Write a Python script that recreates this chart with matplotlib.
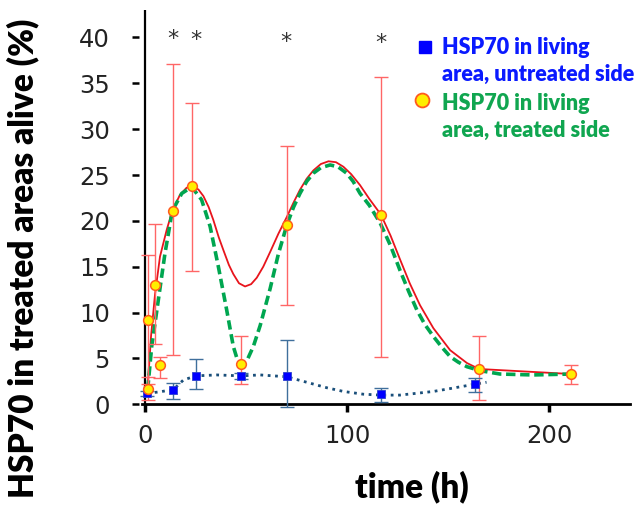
import matplotlib
matplotlib.use("Agg")
import matplotlib.pyplot as plt

# Treated side (yellow circles, red error bars)
treated_h = [1.3, 1.6, 5.0, 7.4, 13.6, 23.2, 47.5, 70.2, 116.7, 165.3, 211.0]
treated_y = [1.7, 9.2, 13.0, 4.3, 21.1, 23.8, 4.4, 19.5, 20.6, 3.85, 3.3]
treated_lo = [0.5, 2.2, 6.6, 2.9, 5.4, 14.5, 2.2, 10.8, 5.2, 0.5, 2.2]
treated_hi = [3.0, 16.3, 19.7, 5.2, 37.1, 32.9, 7.5, 28.2, 35.7, 7.4, 4.3]

# Untreated side (blue squares)
untreated_h = [1.2, 14.0, 25.2, 47.5, 70.1, 116.7, 163.5]
untreated_y = [1.2, 1.6, 3.1, 3.1, 3.05, 1.1, 2.2]
untreated_lo = [0.9, 0.55, 1.7, 2.8, -0.3, 0.3, 1.3]
untreated_hi = [1.5, 2.3, 4.95, 3.4, 7.0, 1.8, 2.9]

# Fitted curves
red_h = [1.0, 1.65, 3.0, 4.95, 7.4, 10.7, 13.5, 17.3, 20.5, 23.5, 26.5, 28.9,
         31.5, 33.8, 36.5, 38.8, 41.5, 43.7, 46.5, 49.5, 52.5, 55.3, 58.5,
         61.9, 66.0, 70.1, 73.5, 76.7, 80.0, 83.3, 87.0, 90.8, 94.5, 98.2,
         102.0, 106.4, 111.0, 116.7, 121.5, 126.2, 131.0, 136.1, 142.7,
         151.0, 159.3, 165.3, 211.0]
red_y = [1.5, 3.0, 7.5, 12.0, 16.1, 19.0, 21.1, 22.85, 23.6, 23.9, 23.4, 22.7,
         21.5, 20.1, 18.2, 16.8, 15.2, 14.2, 13.2, 12.85, 13.1, 13.8, 15.0,
         16.6, 18.6, 20.4, 22.0, 23.4, 24.6, 25.5, 26.2, 26.5, 26.4, 25.9,
         25.1, 23.9, 22.4, 20.7, 18.4, 15.8, 13.2, 10.8, 8.3,
         5.9, 4.5, 3.85, 3.3]

green_h = [1.3, 3.3, 6.6, 9.9, 13.5, 18.2, 23.1, 28.0, 32.2, 36.3, 40.4, 43.7,
           45.5, 48.0, 50.5, 53.6, 57.0, 61.9, 66.0, 70.1, 73.5, 76.7, 80.0,
           83.3, 87.0, 91.6, 95.5, 99.8, 103.0, 106.4, 111.0, 116.3, 121.5,
           126.2, 130.5, 134.5, 138.5, 142.7, 147.0, 151.0, 155.0, 159.3,
           165.8, 175.7, 192.0, 211.0]
green_y = [1.6, 6.3, 11.4, 16.5, 21.1, 23.0, 23.7, 22.3, 19.4, 15.0, 10.3, 6.3,
           5.0, 4.3, 4.8, 6.3, 8.6, 12.6, 16.4, 19.5, 21.5, 23.0, 24.3,
           25.2, 25.8, 26.1, 25.9, 25.2, 24.3, 23.0, 21.7, 19.8, 17.3,
           14.6, 12.3, 10.3, 8.7, 7.4, 6.2, 5.2, 4.6, 4.1,
           3.67, 3.3, 3.2, 3.3]

blue_h = [1.2, 7.0, 14.0, 19.0, 25.2, 35.5, 47.5, 57.0, 70.1, 81.7, 90.0, 98.2,
          108.0, 116.7, 126.0, 134.5, 142.7, 152.0, 163.5, 169.0]
blue_y = [1.2, 1.35, 1.6, 2.65, 3.1, 3.2, 3.1, 3.2, 3.0, 2.3, 1.8, 1.4,
          1.1, 1.0, 1.0, 1.2, 1.4, 1.75, 2.2, 2.4]

# significance stars
star_h = [13.7, 25.2, 69.8, 116.8]
star_y = [39.8, 39.7, 39.5, 39.4]

bold_font = ["Lato", "DejaVu Sans"]
plt.rcParams["font.family"] = ["DejaVu Sans"]

fig = plt.figure(figsize=(6.41, 5.07), dpi=100)
ax = fig.add_axes([0.2168, 0.2026, 0.766, 0.7777])

ax.plot(red_h, red_y, color="#e8141c", lw=1.3, zorder=2)
ax.plot(green_h, green_y, color="#00a650", lw=2.6, dashes=(2.6, 1.3), zorder=2)
ax.plot(blue_h, blue_y, color="#1a4f7a", lw=2.0, linestyle=":", zorder=2)

err_t = [[y - lo for y, lo in zip(treated_y, treated_lo)],
         [hi - y for y, hi in zip(treated_y, treated_hi)]]
ax.errorbar(treated_h, treated_y, yerr=err_t, fmt="none", ecolor="#ff6666",
            elinewidth=1.0, capsize=5, capthick=1.0, zorder=3, clip_on=False)
err_u = [[y - lo for y, lo in zip(untreated_y, untreated_lo)],
         [hi - y for y, hi in zip(untreated_y, untreated_hi)]]
ax.errorbar(untreated_h, untreated_y, yerr=err_u, fmt="none", ecolor="#3f6f9c",
            elinewidth=1.0, capsize=5, capthick=1.0, zorder=3, clip_on=False)

ax.plot(untreated_h, untreated_y, "s", color="#0000ff", ms=6, mec="#2b3fd0",
        mew=0.6, zorder=4, clip_on=False)
ax.plot(treated_h, treated_y, "o", mfc="#ffee00", mec="#ff5a1e", ms=7,
        mew=1.1, zorder=5, clip_on=False)

for h, y in zip(star_h, star_y):
    ax.text(h, y, "*", ha="center", va="center", fontsize=16, color="#333333")

ax.set_xlim(-3, 240)
ax.set_ylim(0, 43)
ax.spines["top"].set_visible(False)
ax.spines["right"].set_visible(False)
ax.spines["left"].set_visible(False)
ax.spines["bottom"].set_linewidth(2)
ax.spines["bottom"].set_bounds(-1.5, 240)
ax.axvline(0, ymin=0, ymax=1, color="black", lw=1.6, zorder=1)

ax.set_yticks([0, 5, 10, 15, 20, 25, 30, 35, 40])
ax.set_xticks([0, 100, 200])
ax.tick_params(axis="y", direction="out", length=5, width=1.8,
               pad=16, labelsize=17.5, labelcolor="#222222")
ax.tick_params(axis="x", direction="out", length=6, width=2.5,
               pad=8, labelsize=17.5, labelcolor="#222222")

fig.text(0.036, 0.49, "HSP70 in treated areas alive (%)", rotation=90,
         ha="center", va="center", fontsize=24, fontweight="heavy",
         family=bold_font)
fig.text(0.643, 0.04, "time (h)", ha="center", va="center", fontsize=24,
         fontweight="heavy", family=bold_font)

# legend drawn by hand
fig.text(442 / 641, 1 - 61 / 507, "HSP70 in living\narea, untreated side",
         ha="left", va="center", fontsize=15.5, fontweight="heavy",
         color="#0a1aff", linespacing=1.38, family=bold_font)
fig.text(442 / 641, 1 - 117 / 507, "HSP70 in living\narea, treated side",
         ha="left", va="center", fontsize=15.5, fontweight="heavy",
         color="#10a650", linespacing=1.38, family=bold_font)
ax.plot([425 / 641], [1 - 47 / 507], "s", color="#0000ff", ms=9,
        transform=fig.transFigure, clip_on=False)
ax.plot([422 / 641], [1 - 100 / 507], "o", mfc="#ffee00", mec="#ff5a1e",
        ms=10, mew=1.3, transform=fig.transFigure, clip_on=False)

fig.savefig("out.png", dpi=100)
